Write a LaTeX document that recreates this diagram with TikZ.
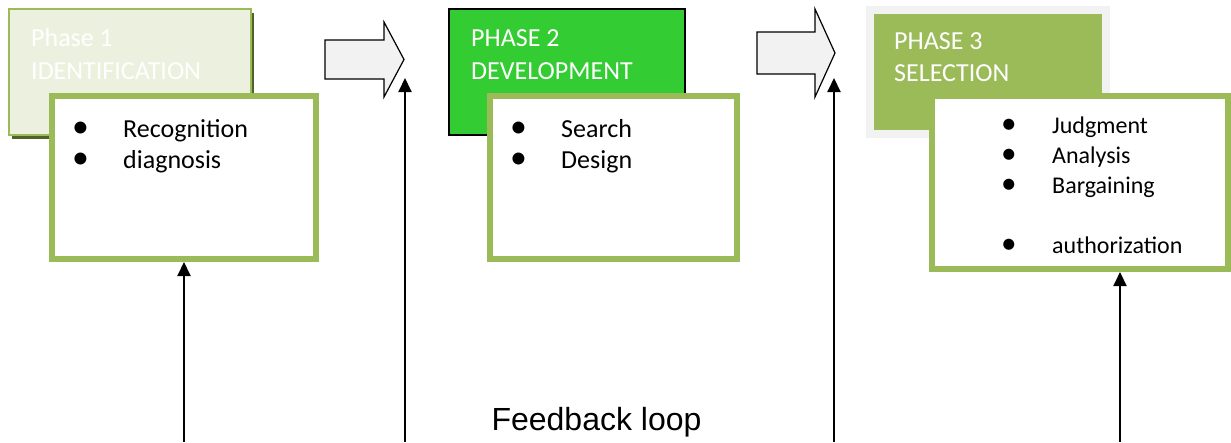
\documentclass[tikz,border=0pt]{standalone}
\usepackage{fontspec}
\setmainfont{Carlito}
\newfontfamily\feedfont{Liberation Sans}
\usetikzlibrary{arrows.meta}
\definecolor{leafgreen}{HTML}{9BBB59}
\definecolor{paleleaf}{HTML}{EBF1DE}
\definecolor{darkleaf}{HTML}{4F6228}
\definecolor{brightgreen}{HTML}{33CC33}
\definecolor{arrowgray}{HTML}{F2F2F2}
\definecolor{shadowgray}{HTML}{ADB59E}
\newcommand\listdot{\llap{\makebox[51pt][l]{\scalebox{1.3}{•}}}}
\tikzset{
  shadowed/.style={preaction={fill=#1, transform canvas={shift={(3pt,-4pt)}}}},
  listbox/.style={draw=leafgreen, line width=6pt, fill=white},
  head/.style={font=\fontsize{26}{31}\selectfont, text=white, anchor=base west, inner sep=0pt},
  item/.style={font=\fontsize{26}{31}\selectfont, anchor=base west, inner sep=0pt},
  smallitem/.style={font=\fontsize{24}{29}\selectfont, anchor=base west, inner sep=0pt},
  feed/.style={line width=2pt, -{Triangle[length=14pt,width=13pt]}}
}
\begin{document}
\begin{tikzpicture}[x=1pt,y=-1pt]
        \useasboundingbox (0,0) rectangle (1231,442);
        % phase 1
        \node[draw=leafgreen, line width=2pt, fill=paleleaf, shadowed=darkleaf,
              minimum width=242pt, minimum height=126pt] (phase1) at (130,72) {};
        \node[head] (ph1a) at (31,46) {Phase 1};
        \node[head] (ph1b) at (31,79) {IDENTIFICATION};
        \node[listbox, minimum width=264pt, minimum height=163pt] (list1) at (184,177.5) {};
        \node[item] (rec) at (123,137) {\listdot Recognition};
        \node[item] (diag) at (123,168) {\listdot diagnosis};
        \filldraw[fill=arrowgray, line width=1.2pt] (325,40) -- (384,40) -- (384,22) -- (404,59.5)
            -- (384,97) -- (384,79) -- (325,79) -- cycle;
        % phase 2
        \node[draw=black, line width=1.5pt, fill=brightgreen,
              minimum width=236pt, minimum height=126pt] (phase2) at (567,72) {};
        \node[head] (ph2a) at (471,46) {PHASE 2};
        \node[head] (ph2b) at (471,79) {DEVELOPMENT};
        \node[listbox, minimum width=247pt, minimum height=163pt] (list2) at (613.5,177.5) {};
        \node[item] (search) at (561,137) {\listdot Search};
        \node[item] (design) at (561,168) {\listdot Design};
        \filldraw[fill=arrowgray, line width=1.2pt] (757,32) -- (815,32) -- (815,9) -- (835,53)
            -- (815,97) -- (815,74) -- (757,74) -- cycle;
        % phase 3
        \node[draw=arrowgray, line width=8pt, fill=leafgreen, shadowed=shadowgray,
              minimum width=236pt, minimum height=124pt] (phase3) at (988,72) {};
        \node[head] (ph3a) at (894,49) {PHASE 3};
        \node[head] (ph3b) at (894,81) {SELECTION};
        \node[listbox, minimum width=296pt, minimum height=173pt] (list3) at (1080,182.5) {};
        \node[smallitem] (judg) at (1052,133) {\listdot Judgment};
        \node[smallitem] (anal) at (1052,163) {\listdot Analysis};
        \node[smallitem] (barg) at (1052,193) {\listdot Bargaining};
        \node[smallitem] (auth) at (1052,253) {\listdot authorization};
        % feedback
        \coordinate (fb1) at (184,442);
        \coordinate (fb2) at (405,442);
        \coordinate (fb3) at (834,442);
        \coordinate (fb4) at (1120,442);
        \coordinate (go1) at (405,78);
        \coordinate (go2) at (834,78);
        \draw[feed] (fb1) -- (list1.south);
        \draw[feed] (fb2) -- (go1);
        \draw[feed] (fb3) -- (go2);
        \draw[feed] (fb4) -- (fb4 |- list3.south);
        \node[font=\feedfont\fontsize{32}{38}\selectfont, anchor=base] (loop) at (596.5,430) {Feedback loop};
\end{tikzpicture}
\end{document}
